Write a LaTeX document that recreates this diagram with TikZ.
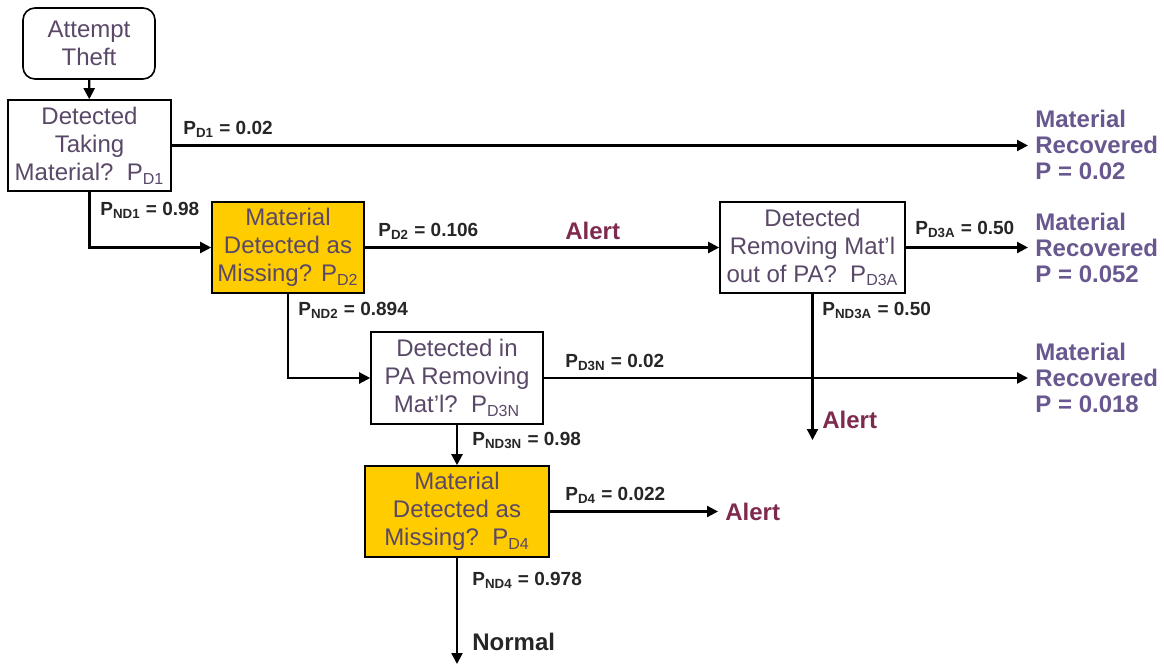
\documentclass[tikz,border=0pt]{standalone}
\usepackage{fontspec}
\setmainfont{Liberation Sans}
\usetikzlibrary{arrows.meta,positioning,calc}
\definecolor{FlowText}{HTML}{5A4868}
\definecolor{FlowGold}{HTML}{FFCC00}
\definecolor{FlowPurple}{HTML}{68588F}
\definecolor{FlowAlert}{HTML}{7D2A4E}
\definecolor{FlowLabel}{HTML}{262626}

\begin{document}
\begin{tikzpicture}[x=0.5pt,y=-0.5pt]
    \tikzset{qbox/.style={draw=black,line width=0.8pt,fill=white,text=FlowText,align=center,
      inner sep=0pt,font=\fontsize{12}{14}\selectfont},
      flow/.style={line width=1.1pt,-{Triangle[length=5.5pt,width=5.5pt]}},
      plabel/.style={anchor=west,inner sep=0pt,text=FlowLabel,font=\fontsize{9.5}{11}\selectfont\bfseries},
      outcome/.style={anchor=west,inner xsep=3.5pt,inner ysep=0pt,align=left,text=FlowPurple,
      font=\fontsize{12}{13}\selectfont\bfseries},
      alert/.style={anchor=west,inner sep=0pt,text=FlowAlert,font=\fontsize{12}{14}\selectfont\bfseries}}
    \useasboundingbox (0,0) rectangle (1164,666);
    % question boxes
    \node[qbox,rounded corners=6pt,minimum width=66pt,minimum height=35.5pt] (att) at (89,43.5) {Attempt\\Theft};
    \node[qbox,minimum width=81.5pt,minimum height=45.5pt] (d1) at (89.5,145.5)
      {Detected\\Taking\\Material?\ \ P\textsubscript{D1}};
    \node[qbox,fill=FlowGold,minimum width=76pt,minimum height=45.5pt] (d2) at (288,247.5)
      {Material\\Detected as\\Missing? P\textsubscript{D2}};
    \node[qbox,minimum width=92.5pt,minimum height=45.5pt] (d3a) at (812.5,247.5)
      {Detected\\Removing Mat'l\\out of PA?\ \ P\textsubscript{D3A}};
    \node[qbox,minimum width=86pt,minimum height=46pt] (d3n) at (457,378)
      {Detected in\\PA Removing\\Mat'l?\ \ P\textsubscript{D3N}};
    \node[qbox,fill=FlowGold,minimum width=92pt,minimum height=45.5pt] (d4) at (457,511.5)
      {Material\\Detected as\\Missing?\ \ P\textsubscript{D4}};
    % outcomes
    \node[outcome] (rec1) at (1028,145) {Material\\Recovered\\P = 0.02};
    \node[outcome] (rec2) at (1028,247.5) {Material\\Recovered\\P = 0.052};
    \node[outcome] (rec3) at (1028,378) {Material\\Recovered\\P = 0.018};
    \node[alert] (alert1) at (565,231) {Alert};
    \node[alert] (alert2) at (822,420) {Alert};
    \node[alert,inner xsep=3.5pt] (alert3) at (718,511.5) {Alert};
    \node[alert,text=FlowLabel] (normal) at (472,642) {Normal};
    \coordinate (end3a) at (812.5,440);
    \coordinate (end4) at (457,664);
    % connectors
    \draw[flow] (att) -- (d1);
    \draw[flow] (d1.east) -- (d1.east -| rec1.west);
    \draw[flow] (d1.south) |- (d2.west);
    \draw[flow] (d2.east) -- (d3a.west);
    \draw[flow] (d2.south) |- (d3n.west);
    \draw[flow] (d3a.east) -- (d3a.east -| rec2.west);
    \draw[flow] (d3a.south) -- (end3a);
    \draw[flow] (d3n.east) -- (d3n.east -| rec3.west);
    \draw[flow] (d3n.south) -- (d4.north);
    \draw[flow] (d4.east) -- (alert3.west);
    \draw[flow] (d4.south) -- (end4);
    % probabilities
    \node[plabel] (pd1) at (183,129) {P\textsubscript{D1} = 0.02};
    \node[plabel] (pnd1) at (100,210) {P\textsubscript{ND1} = 0.98};
    \node[plabel] (pd2) at (378,231) {P\textsubscript{D2} = 0.106};
    \node[plabel] (pnd2) at (298,310) {P\textsubscript{ND2} = 0.894};
    \node[plabel] (pd3a) at (915,229) {P\textsubscript{D3A} = 0.50};
    \node[plabel] (pnd3a) at (822,310) {P\textsubscript{ND3A} = 0.50};
    \node[plabel] (pd3n) at (565,362) {P\textsubscript{D3N} = 0.02};
    \node[plabel] (pnd3n) at (472,440) {P\textsubscript{ND3N} = 0.98};
    \node[plabel] (pd4) at (565,495) {P\textsubscript{D4} = 0.022};
    \node[plabel] (pnd4) at (472,580) {P\textsubscript{ND4} = 0.978};
\end{tikzpicture}
\end{document}
